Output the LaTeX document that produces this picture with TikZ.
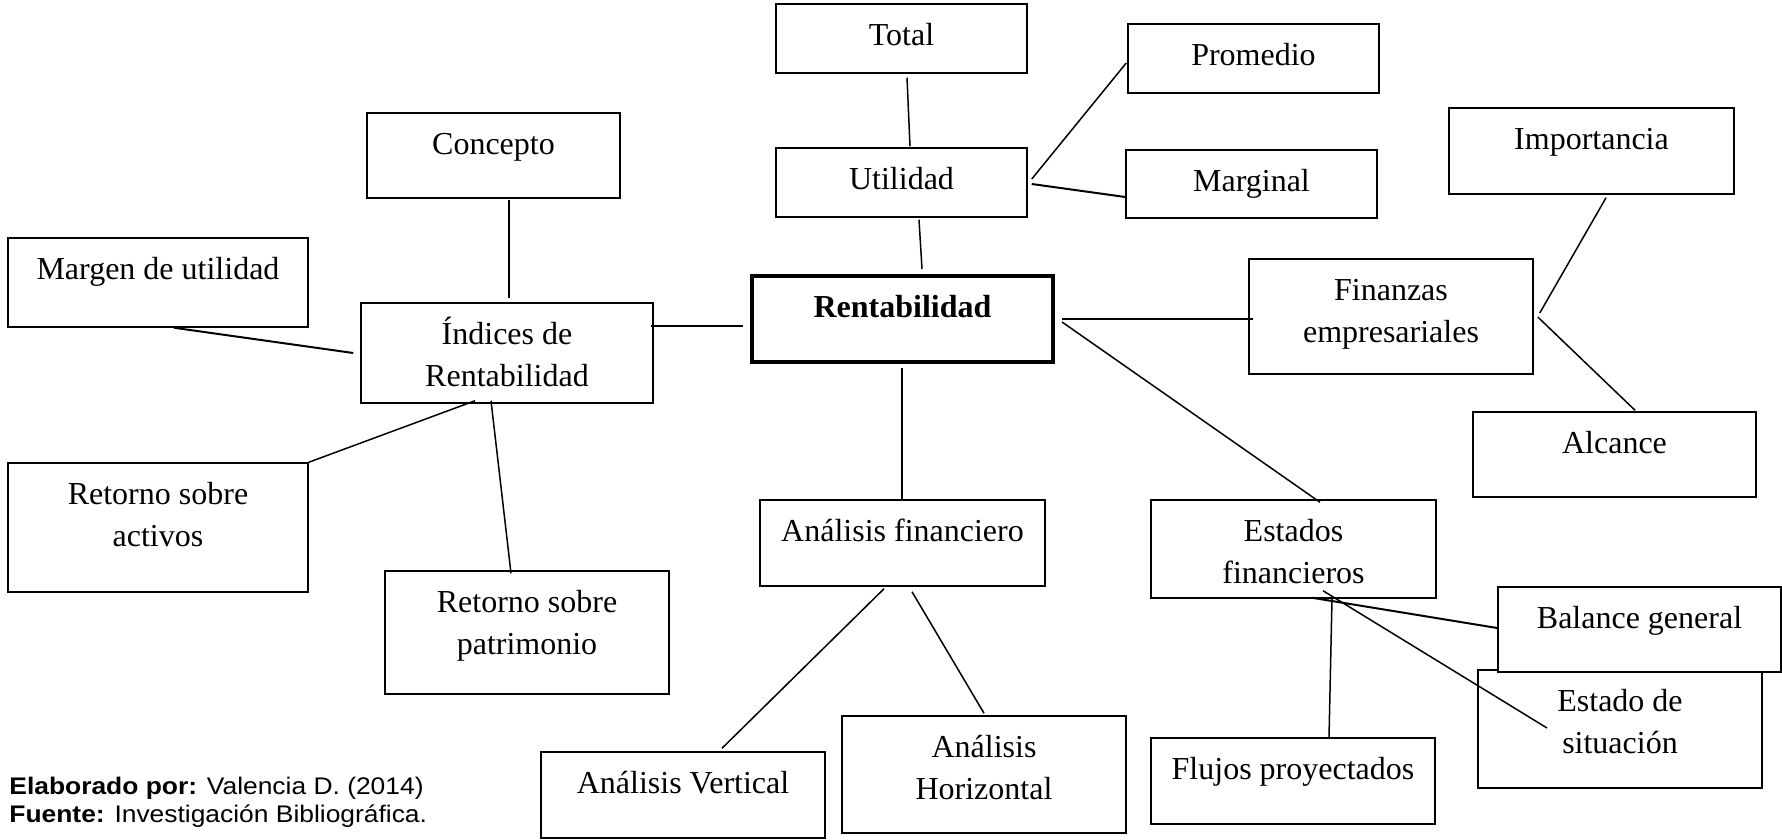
\documentclass[tikz,border=0pt]{standalone}
\usepackage{fontspec}
\setmainfont{Liberation Serif}
\newfontfamily\arialf[FakeStretch=1.1]{Liberation Sans}
\usetikzlibrary{calc}
\tikzset{
 bx/.style={draw, line width=0.75pt, fill=white, inner sep=0pt},
 sz/.style 2 args={minimum width=#1*0.5pt, minimum height=#2*0.5pt},
 tx/.style={anchor=north, inner sep=0pt, align=center, font=\fontsize{16}{21}\selectfont, yshift=-6.2pt},
 ln/.style={line width=0.75pt},
 foot/.style={anchor=base west, inner sep=0pt, font=\arialf\fontsize{12}{14}\selectfont},
}
\begin{document}
\begin{tikzpicture}[x=0.5pt,y=-0.5pt]
\useasboundingbox (0,0) rectangle (1782,840);
% boxes
\node[bx,sz={251}{69},label={[tx]north:\strut Total}] (total) at (901.5,38.5) {};
\node[bx,sz={251}{69},label={[tx]north:\strut Promedio}] (promedio) at (1253.5,58.5) {};
\node[bx,sz={251}{69},label={[tx]north:\strut Utilidad}] (utilidad) at (901.5,182.5) {};
\node[bx,sz={251}{68},label={[tx]north:\strut Marginal}] (marginal) at (1251.5,184) {};
\node[bx,sz={253}{85},label={[tx]north:\strut Concepto}] (concepto) at (493.5,155.5) {};
\node[bx,sz={300}{89},label={[tx]north:\strut Margen de utilidad}] (margen) at (158,282.5) {};
\node[bx,sz={292}{100},label={[tx]north:\strut Índices de\\Rentabilidad}] (indices) at (507,353) {};
\node[bx,line width=2pt,sz={301}{86},label={[tx,yshift=-0.6pt]north:\strut\textbf{Rentabilidad}}] (rent) at (902.5,319) {};
\node[bx,sz={285}{86},label={[tx]north:\strut Importancia}] (importancia) at (1591.5,151) {};
\node[bx,sz={284}{115},label={[tx]north:\strut Finanzas\\empresariales}] (finanzas) at (1391,316.5) {};
\node[bx,sz={283}{85},label={[tx]north:\strut Alcance}] (alcance) at (1614.5,454.5) {};
\node[bx,sz={300}{129},label={[tx]north:\strut Retorno sobre\\activos}] (activos) at (158,527.5) {};
\node[bx,sz={284}{123},label={[tx]north:\strut Retorno sobre\\patrimonio}] (patrimonio) at (527,632.5) {};
\node[bx,sz={285}{86},label={[tx]north:\strut Análisis financiero}] (analisis) at (902.5,543) {};
\node[bx,sz={285}{98},label={[tx]north:\strut Estados\\financieros}] (estados) at (1293.5,549) {};
\node[bx,sz={284}{118},label={[tx]north:\strut Estado de\\situación}] (situacion) at (1620,729) {};
\node[bx,sz={283}{85},label={[tx]north:\strut Balance general}] (balance) at (1639.5,629.5) {};
\node[bx,sz={284}{86},label={[tx]north:\strut Análisis Vertical}] (vertical) at (683,795) {};
\node[bx,sz={284}{117},label={[tx]north:\strut Análisis\\Horizontal}] (horizontal) at (984,774.5) {};
\node[bx,sz={284}{86},label={[tx]north:\strut Flujos proyectados}] (flujos) at (1293,781) {};
% connectors
\draw[ln] ($(total.south)+(5.5,4)$) -- ($(utilidad.north)+(8.5,-1)$);
\draw[ln] ($(utilidad.east)+(4,-3.5)$) -- ($(promedio.west)+(-1,4.5)$);
\draw[ln,line width=1pt] ($(utilidad.east)+(4,1.5)$) -- ($(marginal.west)+(0,13)$);
\draw[ln] ($(utilidad.south)+(17.5,2)$) -- ($(rent.north)+(19.5,-5)$);
\draw[ln,line width=1pt] ($(rent.east)+(7,0)$) -- ($(finanzas.west)+(5,2.5)$);
\draw[ln] ($(rent.east)+(7,3)$) -- ($(estados.north)+(26.5,3)$);
\draw[ln] ($(finanzas.east)+(6,-3.5)$) -- ($(importancia.south)+(14.5,3)$);
\draw[ln] ($(finanzas.east)+(4,0.5)$) -- ($(alcance.north)+(20.5,-1)$);
\draw[ln] ($(rent.south)+(-0.5,4)$) -- ($(analisis.north)+(-0.5,0)$);
\draw[ln] ($(indices.east)+(-3,-27)$) -- ($(rent.west)+(-7,7)$);
\draw[ln] ($(concepto.south)+(15.5,1)$) -- ($(indices.north)+(2,-4)$);
\draw[ln,line width=1pt] ($(margen.south)+(16,0)$) -- ($(indices.west)+(-7,0)$);
\draw[ln] ($(indices.south)+(-32,-3)$) -- (activos.north east);
\draw[ln] ($(indices.south)+(-16,-3)$) -- ($(patrimonio.north)+(-16,3)$);
\draw[ln] ($(analisis.south)+(-18.5,2)$) -- ($(vertical.north)+(39,-3)$);
\draw[ln] ($(analisis.south)+(9.5,5)$) -- ($(horizontal.north)+(0,-2)$);
\draw[ln,line width=1pt] ($(estados.south)+(18.5,-1)$) -- ($(balance.west)+(0,-1.5)$);
\draw[ln] ($(estados.south)+(29.5,-8)$) -- ($(situacion.center)+(-73,-1)$);
\draw[ln] ($(estados.south)+(38.5,0)$) -- ($(flujos.north)+(36,0)$);
% footer
\node[foot] (elab) at (9,794) {\textbf{Elaborado por:} Valencia D. (2014)};
\node[foot] (fuente) at (9,822) {\textbf{Fuente:} Investigación Bibliográfica.};
\end{tikzpicture}
\end{document}
